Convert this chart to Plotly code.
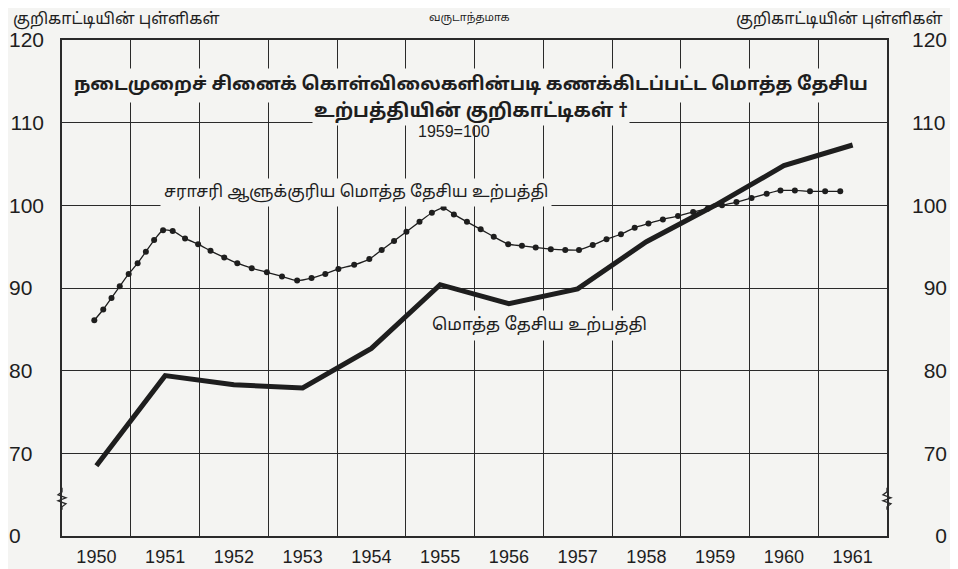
import plotly.graph_objects as go

# ---------------- data ----------------
years = [1950, 1951, 1952, 1953, 1954, 1955, 1956, 1957, 1958, 1959, 1960, 1961]
year_labels = [str(y) for y in years]

# Gross national product index (thick line), 1959 = 100
gnp_total = [68.5, 79.4, 78.3, 77.9, 82.7, 90.4, 88.1, 89.9, 95.6, 100.0, 104.8, 107.3]

# Per-capita gross national product (dotted line): positions of the dots
percap_x = [1949.97, 1950.10, 1950.22, 1950.34, 1950.47, 1950.60, 1950.72, 1950.84, 1950.97,
            1951.11, 1951.29, 1951.48, 1951.66, 1951.86, 1952.05, 1952.26, 1952.48, 1952.70,
            1952.92, 1953.13, 1953.33, 1953.52, 1953.75, 1953.97, 1954.15, 1954.33, 1954.51,
            1954.70, 1954.88, 1955.05, 1955.20, 1955.39, 1955.59, 1955.78, 1955.99, 1956.19,
            1956.39, 1956.61, 1956.82, 1957.02, 1957.22, 1957.42, 1957.63, 1957.83, 1958.03,
            1958.24, 1958.46, 1958.68, 1958.89, 1959.10, 1959.31, 1959.53, 1959.75, 1959.95,
            1960.16, 1960.38, 1960.60, 1960.82]
percap_y = [86.1, 87.4, 88.8, 90.2, 91.7, 93.0, 94.4, 95.8, 97.0,
            96.9, 96.0, 95.3, 94.5, 93.7, 93.0, 92.4, 91.9, 91.4,
            90.9, 91.2, 91.7, 92.3, 92.8, 93.5, 94.6, 95.7, 96.8,
            98.0, 99.1, 99.7, 98.9, 98.0, 97.1, 96.2, 95.3, 95.1,
            94.9, 94.7, 94.6, 94.6, 95.2, 95.9, 96.5, 97.3, 97.8,
            98.3, 98.7, 99.2, 99.6, 100.0, 100.4, 100.9, 101.4, 101.8,
            101.8, 101.7, 101.7, 101.7]

# y axis: broken scale, bottom line stands for 0
y_tickvals = [60, 70, 80, 90, 100, 110, 120]
y_ticklabels = ["0", "70", "80", "90", "100", "110", "120"]

title_line1 = "நடைமுறைச் சினைக் கொள்விலைகளின்படி கணக்கிடப்பட்ட மொத்த தேசிய"
title_line2 = "உற்பத்தியின் குறிகாட்டிகள் †"
title_line3 = "1959=100"
axis_caption = "குறிகாட்டியின் புள்ளிகள்"
period_caption = "வருடாந்தமாக"
label_percap = "சராசரி ஆளுக்குரிய மொத்த தேசிய உற்பத்தி"
label_total = "மொத்த தேசிய உற்பத்தி"

# ---------------- style ----------------
BG = "#f4f4f2"
INK = "#1e1e1e"
GRID = "#2a2a2a"
TAMIL = "Noto Sans Tamil, Lohit Tamil, Latha, Noto Sans, sans-serif"
NUM = "Liberation Sans, Arial, sans-serif"
FS = "\u2007"  # figure space (digit width)

left_text = [t + FS * (3 - len(t)) for t in y_ticklabels]
right_text = [FS * (3 - len(t)) + t for t in y_ticklabels]

fig = go.Figure()

# dotted per-capita series: thin connecting line + round dots
fig.add_trace(go.Scatter(
    x=percap_x, y=percap_y, mode="lines+markers",
    line=dict(color=INK, width=1.3, shape="spline", smoothing=0.6),
    marker=dict(color=INK, size=6),
    hoverinfo="skip", showlegend=False,
))

# thick total series
fig.add_trace(go.Scatter(
    x=years, y=gnp_total, mode="lines",
    line=dict(color=INK, width=5),
    hoverinfo="skip", showlegend=False,
))

# invisible trace to activate right axis
fig.add_trace(go.Scatter(
    x=years[:1], y=gnp_total[:1], yaxis="y2", mode="markers",
    marker=dict(opacity=0), hoverinfo="skip", showlegend=False,
))

fig.update_layout(
    width=950, height=561,
    margin=dict(l=54, r=71, t=32, b=33, autoexpand=False),
    paper_bgcolor=BG, plot_bgcolor=BG,
    xaxis=dict(
        range=[1949.5, 1961.5], tickmode="array", tickvals=years, ticktext=year_labels,
        showgrid=False, zeroline=False, ticks="", automargin=False,
        showline=True, linecolor=GRID, linewidth=1.5, mirror=True,
        tickfont=dict(family=NUM, size=18, color=INK), ticklabelstandoff=4,
        minor=dict(tick0=1949.5, dtick=1, showgrid=True, gridcolor=GRID, gridwidth=1.3, ticks=""),
    ),
    yaxis=dict(
        range=[60, 120], tickmode="array", tickvals=y_tickvals, ticktext=left_text,
        showgrid=True, gridcolor=GRID, gridwidth=1.3, zeroline=False, ticks="", automargin=False,
        showline=True, linecolor=GRID, linewidth=1.5, mirror=True,
        tickfont=dict(family=NUM, size=21, color=INK), ticklabelstandoff=12,
    ),
    yaxis2=dict(
        range=[60, 120], overlaying="y", side="right", tickmode="array", automargin=False,
        tickvals=y_tickvals, ticktext=right_text, showgrid=False, zeroline=False, ticks="",
        showline=False,
        tickfont=dict(family=NUM, size=21, color=INK), ticklabelstandoff=24,
    ),
)

# axis-break squiggles on both vertical axes
for xp in (0, 1):
    fig.add_shape(
        type="path", xref="paper", yref="y", xsizemode="pixel", ysizemode="pixel",
        xanchor=xp, yanchor=64.5,
        path="M 0,11 L 0,7 L -4,4 L 4,1 L -4,-2 L 4,-5 L 0,-8 L 0,-11",
        line=dict(color=GRID, width=1.3), fillcolor="rgba(0,0,0,0)",
    )

ann = []
# header captions (outside the plot area)
ann.append(dict(text=axis_caption, x=-0.062, y=1.041, xref="paper", yref="paper", xanchor="left",
                yanchor="middle", showarrow=False, font=dict(family=TAMIL, size=16, color=INK)))
ann.append(dict(text=axis_caption, x=1.070, y=1.041, xref="paper", yref="paper", xanchor="right",
                yanchor="middle", showarrow=False, font=dict(family=TAMIL, size=16, color=INK)))
ann.append(dict(text=period_caption, x=0.494, y=1.044, xref="paper", yref="paper", xanchor="center",
                yanchor="middle", showarrow=False, font=dict(family=TAMIL, size=11, color=INK)))
# title block (masks over the grid)
ann.append(dict(text="<b>" + title_line1 + "</b>", x=1955.45, y=114.5, xref="x", yref="y",
                xanchor="center", yanchor="middle", showarrow=False, bgcolor=BG, borderpad=5,
                font=dict(family=TAMIL, size=18.4, color=INK)))
ann.append(dict(text="<b>" + title_line2 + "</b>", x=1955.45, y=111.3, xref="x", yref="y",
                xanchor="center", yanchor="middle", showarrow=False, bgcolor=BG, borderpad=1,
                font=dict(family=TAMIL, size=19, color=INK)))
ann.append(dict(text=title_line3, x=1955.2, y=108.9, xref="x", yref="y",
                xanchor="center", yanchor="middle", showarrow=False,
                font=dict(family=NUM, size=16, color=INK)))
# series labels
ann.append(dict(text=label_percap, x=1950.93, y=101.5, xref="x", yref="y",
                xanchor="left", yanchor="middle", showarrow=False, bgcolor=BG, borderpad=3,
                font=dict(family=TAMIL, size=16.5, color=INK)))
ann.append(dict(text=label_total, x=1954.81, y=85.5, xref="x", yref="y",
                xanchor="left", yanchor="middle", showarrow=False, bgcolor=BG, borderpad=4,
                font=dict(family=TAMIL, size=17, color=INK)))
fig.update_layout(annotations=ann)

fig.write_html("out.html")
